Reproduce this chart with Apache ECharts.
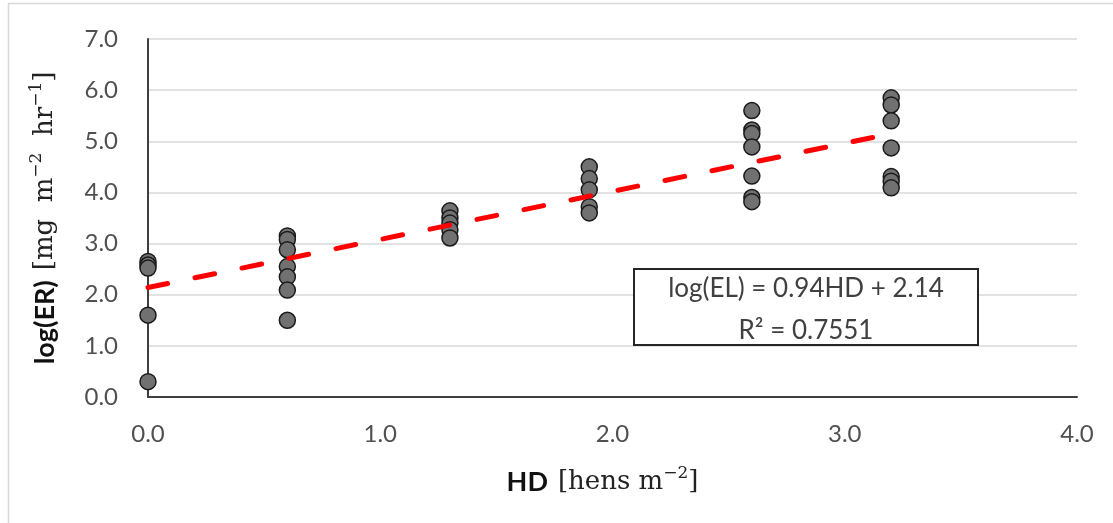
<!DOCTYPE html>
<html lang="en">

<head>
  <meta charset="UTF-8">
  <title>log(ER) vs HD</title>
  <script src="https://cdn.jsdelivr.net/npm/echarts@6/dist/echarts.min.js"></script>
  <style>
    html, body { margin: 0; padding: 0; background: #fff; }
  </style>
</head>

<body>
  <div id="main" style="width: 1113px;height:523px;"></div>
</body>

</html>
<script>
  // hen density levels and the measured log(ER) values at each level
  const hdLevels = [0, 0.6, 1.3, 1.9, 2.6, 3.2];
  const erByLevel = [
    [2.65, 2.58, 2.52, 1.60, 0.30],
    [3.15, 3.08, 2.88, 2.55, 2.35, 2.09, 1.50],
    [3.64, 3.50, 3.40, 3.27, 3.11],
    [4.50, 4.27, 4.05, 3.72, 3.60],
    [5.60, 5.22, 5.15, 4.89, 4.32, 3.90, 3.82],
    [5.85, 5.71, 5.40, 4.87, 4.31, 4.22, 4.09]
  ];
  // linear trendline end points
  const trendHD = [0, 3.2];
  const trendER = [2.14, 5.15];
  const eqText = ['log(EL) = 0.94HD + 2.14', 'R² = 0.7551'];

  initChart();

  function initChart() {
    let points = [];
    hdLevels.forEach((x, i) => {
      erByLevel[i].forEach((y) => points.push([x, y]));
    });
    let trend = trendHD.map((x, i) => [x, trendER[i]]);

    const tickFont = {
      fontFamily: 'Lato',
      fontSize: 24,
      color: '#505050'
    };
    const titleRich = {
      b: { fontFamily: 'Lato', fontWeight: 'bold', fontSize: 27, color: '#111', lineHeight: 34 },
      s: { fontFamily: 'DejaVu Serif', fontSize: 26, color: '#222', lineHeight: 34 },
      sup: { fontFamily: 'DejaVu Serif', fontSize: 17, color: '#222', lineHeight: 18, verticalAlign: 'top' }
    };

    let myChart = echarts.init(document.getElementById('main'));
    let option = {
      animation: false,
      backgroundColor: '#fff',
      grid: {
        left: 148,
        right: 36,
        top: 39,
        bottom: 126
      },
      xAxis: {
        type: 'value',
        min: 0,
        max: 4,
        interval: 1,
        axisLine: { show: true, lineStyle: { color: '#3f3f3f', width: 2 } },
        axisTick: { show: false },
        splitLine: { show: false },
        axisLabel: {
          ...tickFont,
          margin: 25,
          formatter: (v) => v.toFixed(1)
        },
        name: '{b|HD}   {s|[hens m}{sup|−2}{s|]}',
        nameLocation: 'middle',
        nameGap: 68,
        nameTextStyle: {
          padding: [0, 20, 0, 0],
          rich: titleRich
        }
      },
      yAxis: {
        type: 'value',
        min: 0,
        max: 7,
        interval: 1,
        axisLine: { show: true, lineStyle: { color: '#3f3f3f', width: 2 } },
        axisTick: { show: false },
        splitLine: { show: true, lineStyle: { color: '#d9d9d9', width: 1.5 } },
        axisLabel: {
          ...tickFont,
          margin: 30,
          formatter: (v) => v.toFixed(1)
        },
        name: '{b|log(ER)}   {s|[mg  m}{sup|−2}{s|  hr}{sup|−1}{s|]}',
        nameLocation: 'middle',
        nameRotate: 90,
        nameGap: 86,
        nameTextStyle: {
          rich: titleRich
        }
      },
      graphic: [{
        // outer chart frame (only top/left edges are inside the picture)
        type: 'rect',
        shape: { x: 8.5, y: 3.5, width: 1200, height: 600 },
        style: { fill: 'none', stroke: '#d9d9d9', lineWidth: 1.5 },
        silent: true,
        z: -1
      }, {
        type: 'group',
        left: 633,
        top: 268,
        z: 100,
        children: [{
          type: 'rect',
          z: 100,
          shape: { x: 0, y: 0, width: 344, height: 76 },
          style: { fill: '#fff', stroke: '#262626', lineWidth: 2 }
        }, {
          type: 'text',
          z: 101,
          x: 172,
          y: 20,
          style: {
            text: eqText[0],
            fontFamily: 'Lato',
            fontSize: 26,
            fill: '#404040',
            align: 'center',
            verticalAlign: 'middle'
          }
        }, {
          type: 'text',
          z: 101,
          x: 172,
          y: 62,
          style: {
            text: eqText[1],
            fontFamily: 'Lato',
            fontSize: 26,
            fill: '#404040',
            align: 'center',
            verticalAlign: 'middle'
          }
        }]
      }],
      series: [{
        name: 'measured',
        type: 'scatter',
        data: points,
        symbol: 'circle',
        symbolSize: 16,
        itemStyle: {
          color: '#717171',
          borderColor: '#1a1a1a',
          borderWidth: 1.5,
          opacity: 1
        }
      }, {
        name: 'trend',
        type: 'line',
        data: trend,
        symbol: 'none',
        lineStyle: {
          color: '#ff0000',
          width: 5,
          type: [20, 28],
          cap: 'round'
        }
      }]
    };
    myChart.setOption(option, true);
  }
</script>
